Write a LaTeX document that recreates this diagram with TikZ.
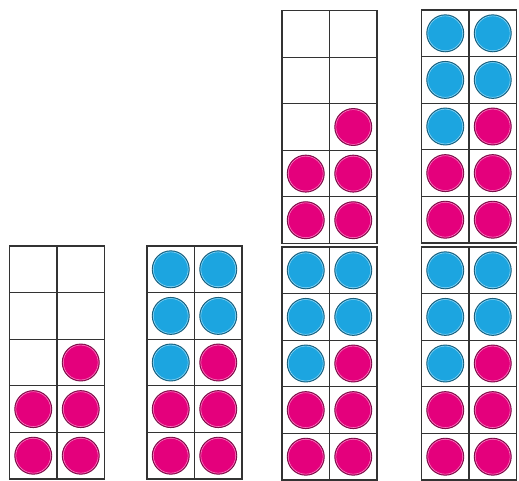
\documentclass[tikz,border=0pt]{standalone}
\definecolor{mag}{HTML}{E4007C}
\definecolor{magd}{HTML}{7A1048}
\definecolor{cy}{HTML}{1CA5E0}
\definecolor{cyd}{HTML}{1B5E7A}
\begin{document}
\begin{tikzpicture}[x=1pt,y=-1pt,
  gridline/.style={line width=1.1pt, draw=black!80},
  dot/.style={fill=#1, draw=#1d, line width=0.9pt},
  shine/.style={draw=white, line width=0.5pt, opacity=0.55}]
\useasboundingbox (0,0) rectangle (519,480);
\newcommand\tenframe[3]{%
  \draw[gridline] (#1,#2) rectangle ++(95,233);
  \draw[gridline] (#1+47.5,#2) -- ++(0,233);
  \foreach \k in {1,...,4} \draw[gridline] (#1,#2+46.6*\k) -- ++(95,0);
  \foreach \c/\r/\cc in #3 {
    \path[dot=\cc] (#1+23.75+47.5*\c, #2+23.3+46.6*\r) circle (18.5);
    \path[shine] (#1+23.75+47.5*\c, #2+23.3+46.6*\r) circle (17.4);
  }%
}
\def\pfive{1/2/mag,0/3/mag,1/3/mag,0/4/mag,1/4/mag}
\def\pten{0/0/cy,1/0/cy,0/1/cy,1/1/cy,0/2/cy,1/2/mag,0/3/mag,1/3/mag,0/4/mag,1/4/mag}
\tenframe{9.5}{246}{\pfive}
\tenframe{147}{246}{\pten}
\tenframe{282}{10.5}{\pfive}
\tenframe{282}{247}{\pten}
\tenframe{421.5}{10}{\pten}
\tenframe{421.5}{247}{\pten}
\end{tikzpicture}
\end{document}
